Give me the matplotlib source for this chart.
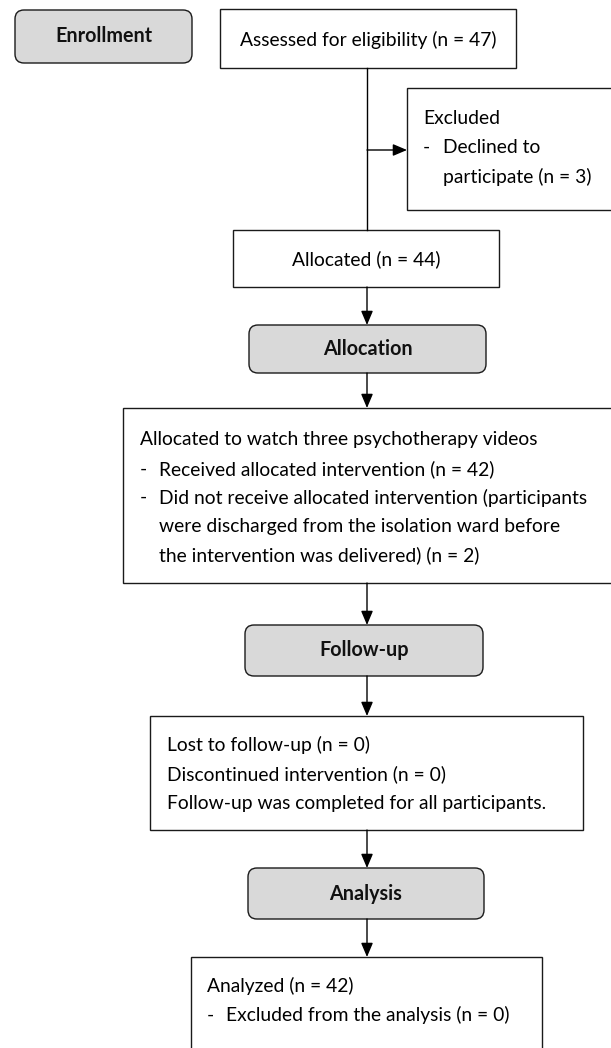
import matplotlib
matplotlib.use("Agg")
import matplotlib.pyplot as plt
from matplotlib.patches import FancyBboxPatch, Rectangle

plt.rcParams['font.family'] = ['Lato', 'DejaVu Sans']

# stage labels (grey rounded boxes)
stages = ['Enrollment', 'Allocation', 'Follow-up', 'Analysis']

# content boxes: header, bullet items (each item may wrap onto several lines)
assessed_text = 'Assessed for eligibility (n = 47)'
allocated_text = 'Allocated (n = 44)'
excluded_head = 'Excluded'
excluded_items = [['Declined to', 'participate (n = 3)']]
intervention_head = 'Allocated to watch three psychotherapy videos'
intervention_items = [
    ['Received allocated intervention (n = 42)'],
    ['Did not receive allocated intervention (participants',
     'were discharged from the isolation ward before',
     'the intervention was delivered) (n = 2)'],
]
followup_lines = ['Lost to follow-up (n = 0)',
                  'Discontinued intervention (n = 0)',
                  'Follow-up was completed for all participants.']
analysis_head = 'Analyzed (n = 42)'
analysis_items = [['Excluded from the analysis (n = 0)']]

W, H = 611, 1048
fig = plt.figure(figsize=(W / 100, H / 100), dpi=100)
ax = fig.add_axes([0, 0, 1, 1])
ax.set_xlim(0, W)
ax.set_ylim(H, 0)
ax.axis('off')

LW = 1.0
FS = 13.9
EDGE = '#1a1a1a'
ARROW = '-|>,head_length=0.85,head_width=0.36'


def rect(x0, y0, x1, y1):
    ax.add_patch(Rectangle((x0, y0), x1 - x0, y1 - y0, facecolor='white',
                           edgecolor=EDGE, lw=LW))


def stage(x0, y0, x1, y1, label):
    ax.add_patch(FancyBboxPatch((x0, y0), x1 - x0, y1 - y0,
                                boxstyle='round,pad=0,rounding_size=9',
                                facecolor='#d9d9d9', edgecolor=EDGE, lw=LW))
    ax.text((x0 + x1) / 2, (y0 + y1) / 2, label, ha='center', va='center',
            fontsize=14.2, fontweight='bold', color='#111111')


def arrow(x0, y0, x1, y1):
    ax.annotate('', xy=(x1, y1), xytext=(x0, y0),
                arrowprops=dict(arrowstyle=ARROW, color='black', lw=LW,
                                shrinkA=0, shrinkB=0))


def block(x, y, dy, head, items, indent):
    if head:
        ax.text(x, y, head, ha='left', va='center', fontsize=FS)
        y += dy
    for item in items:
        ax.text(x, y, '-', ha='left', va='center', fontsize=FS)
        for line in item:
            ax.text(x + indent, y, line, ha='left', va='center', fontsize=FS)
            y += dy


# Enrollment
stage(15, 10, 192, 63, stages[0])
rect(220, 9, 516, 68)
ax.text(368, 40, assessed_text, ha='center', va='center', fontsize=FS)
ax.plot([367, 367], [68, 230], color='black', lw=LW)
arrow(367, 150, 407, 150)
rect(407, 88, 620, 210)
block(423, 118, 29.5, excluded_head, excluded_items, 20)

rect(233, 230, 499, 287)
ax.text(366, 259, allocated_text, ha='center', va='center', fontsize=FS)
arrow(367, 287, 367, 325)

# Allocation
stage(249, 325, 486, 373, stages[1])
arrow(367, 373, 367, 408)
rect(123, 408, 620, 583)
block(140, 440, 28.8, intervention_head, intervention_items, 19)
arrow(367, 583, 367, 625)

# Follow-up
stage(245, 625, 483, 676, stages[2])
arrow(367, 676, 367, 716)
rect(150, 716, 583, 830)
for i, line in enumerate(followup_lines):
    ax.text(167, 745 + i * 29, line, ha='left', va='center', fontsize=FS)
arrow(367, 830, 367, 868)

# Analysis
stage(248, 868, 484, 919, stages[3])
arrow(367, 919, 367, 957)
rect(191, 957, 542, 1060)
block(207, 986, 29, analysis_head, analysis_items, 19)

fig.savefig('out.png', dpi=100)
